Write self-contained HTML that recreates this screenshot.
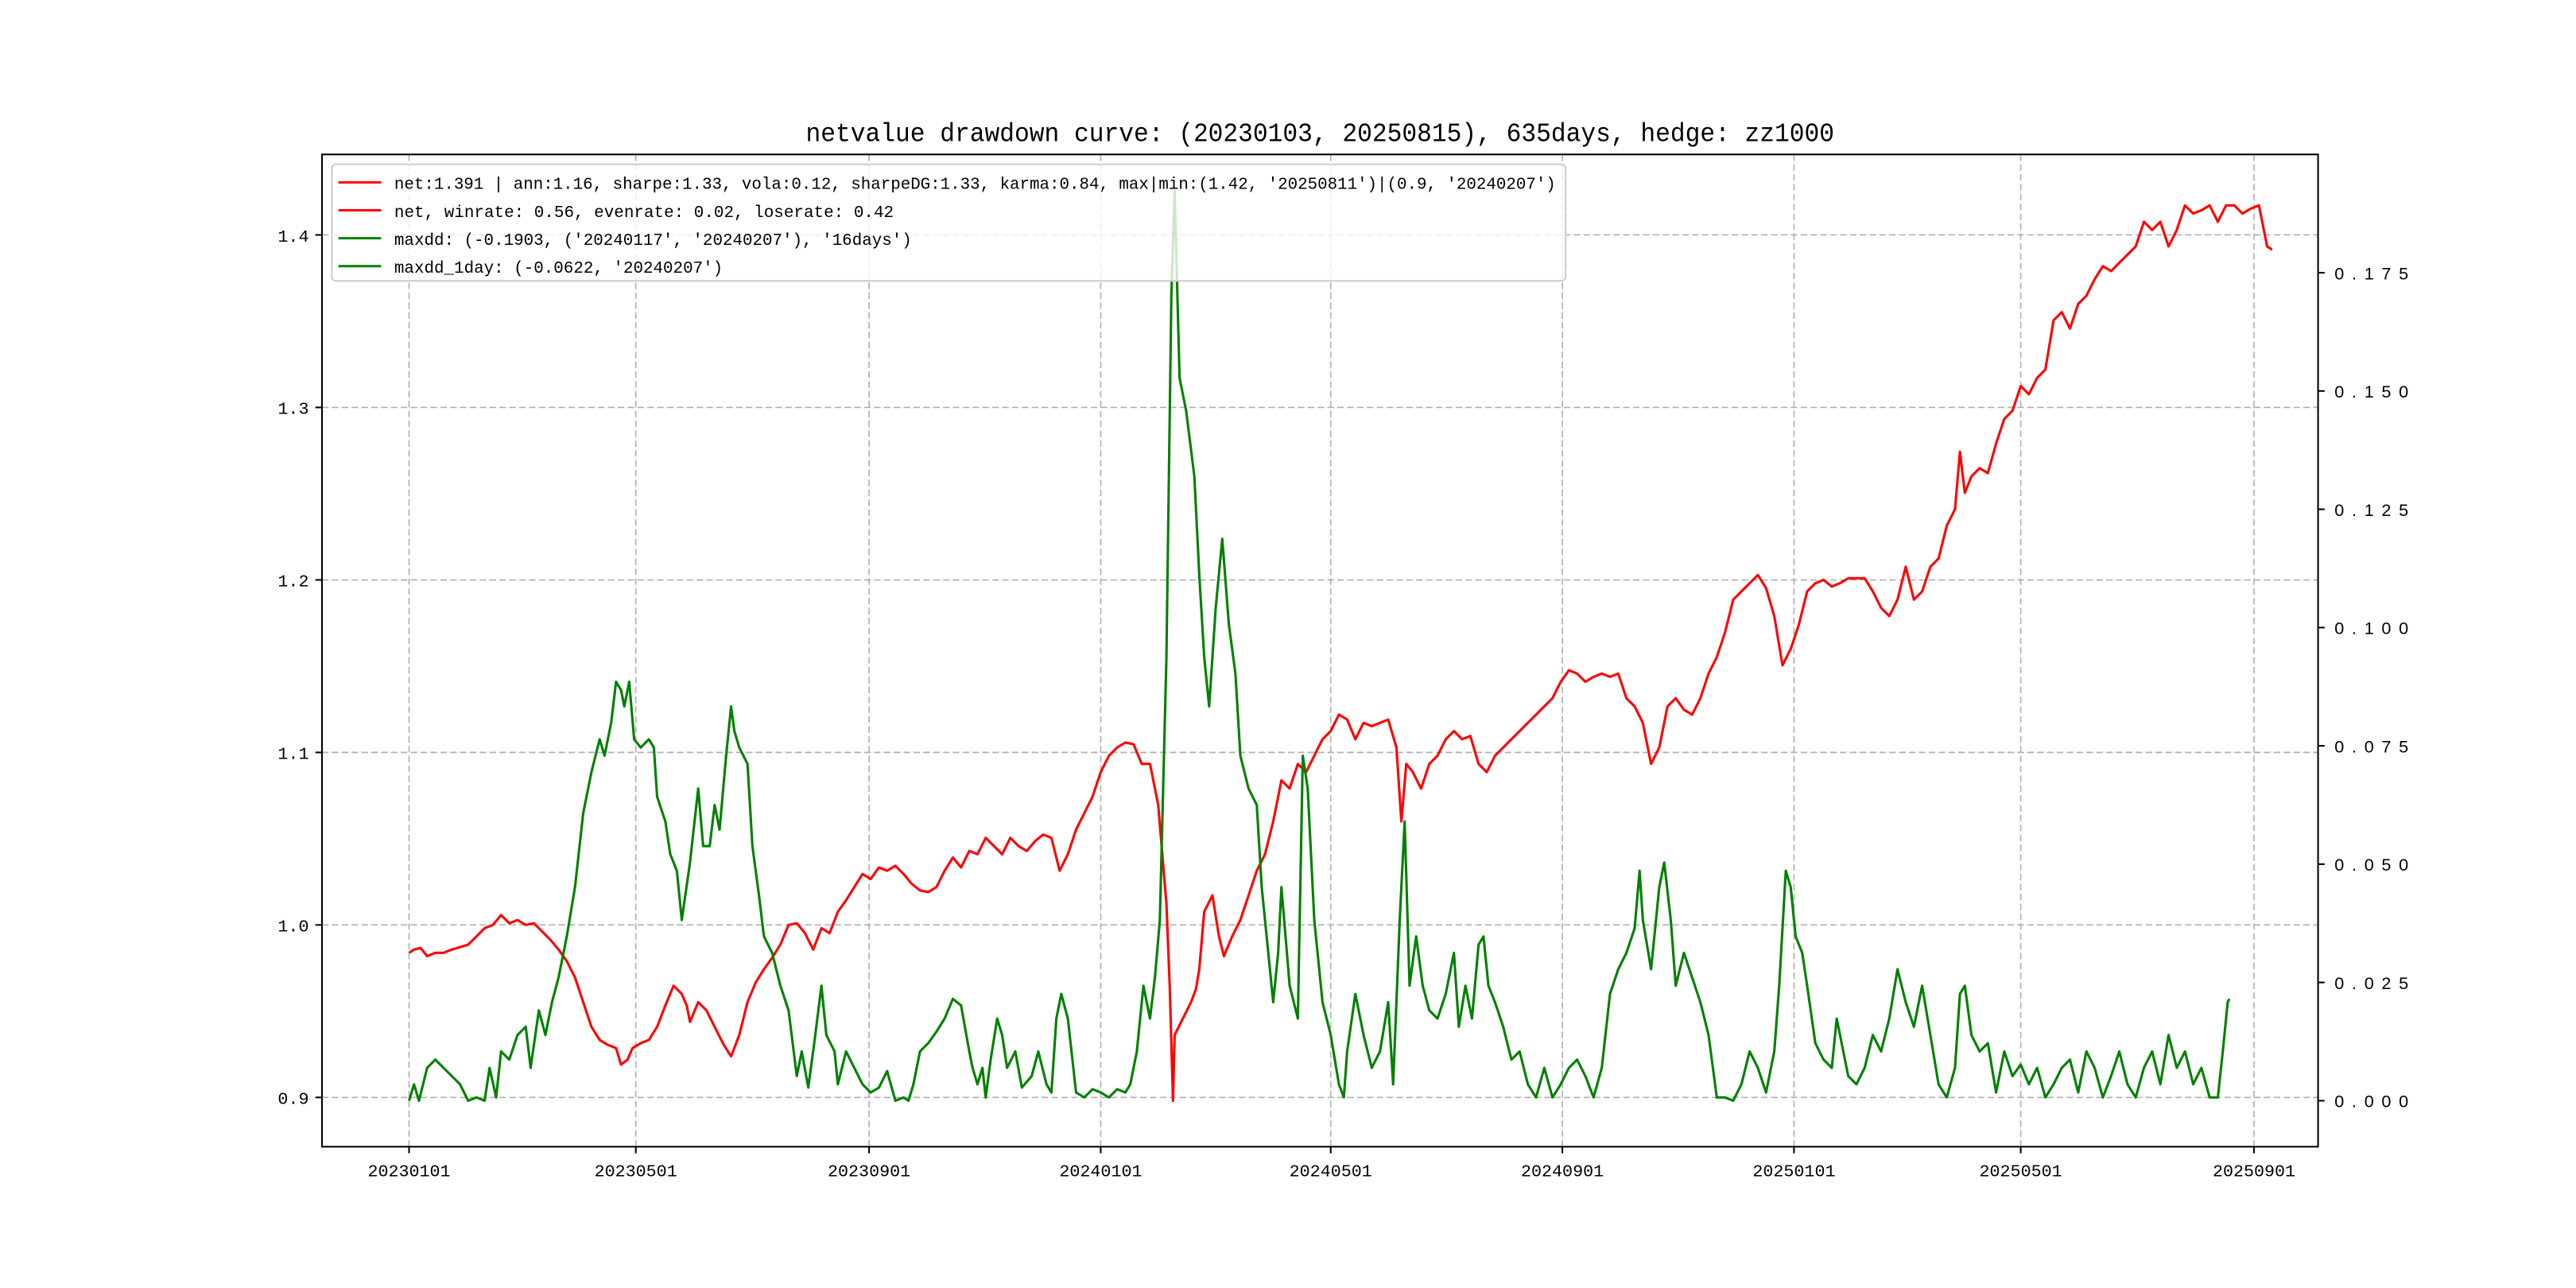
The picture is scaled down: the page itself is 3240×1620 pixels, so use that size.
<!DOCTYPE html>
<html><head><meta charset="utf-8"><style>html,body{margin:0;padding:0;background:#fff}svg{display:block}</style></head>
<body>
<svg width="3240" height="1620" viewBox="0 0 1568 784" preserveAspectRatio="none" xmlns="http://www.w3.org/2000/svg" font-family="'Liberation Mono','Noto Sans CJK SC',monospace">
<rect width="1568" height="784" fill="#fff"/>
<g stroke="#b0b0b0" stroke-width="0.8" stroke-dasharray="4,2" fill="none">
<line x1="249" y1="94" x2="249" y2="698"/><line x1="387" y1="94" x2="387" y2="698"/><line x1="529" y1="94" x2="529" y2="698"/><line x1="670" y1="94" x2="670" y2="698"/><line x1="810" y1="94" x2="810" y2="698"/><line x1="951" y1="94" x2="951" y2="698"/><line x1="1092" y1="94" x2="1092" y2="698"/><line x1="1230" y1="94" x2="1230" y2="698"/><line x1="1372" y1="94" x2="1372" y2="698"/>
<line x1="196" y1="668" x2="1411" y2="668"/><line x1="196" y1="563" x2="1411" y2="563"/><line x1="196" y1="458" x2="1411" y2="458"/><line x1="196" y1="353" x2="1411" y2="353"/><line x1="196" y1="248" x2="1411" y2="248"/><line x1="196" y1="143" x2="1411" y2="143"/>
</g>
<polyline fill="none" stroke="#ff0000" stroke-width="1.5" stroke-linejoin="round" points="249,580 252,578 256,577 260,582 265,580 270,580 275,578 285,575 290,570 295,565 300,563 305,557 310,562 315,560 320,563 325,562 330,567 335,572 340,578 345,585 350,595 355,610 360,625 365,633 370,636 375,638 378,648 382,645 385,638 390,635 395,633 400,625 405,612 410,600 415,605 418,612 420,622 425,610 430,615 435,625 440,635 445,643 450,630 455,610 460,598 465,590 470,583 475,575 480,563 485,562 490,568 495,578 500,565 505,568 510,555 515,548 520,540 525,532 530,535 535,528 540,530 545,527 550,532 555,538 560,542 565,543 570,540 575,530 580,522 585,528 590,518 595,520 600,510 605,515 610,520 615,510 620,515 625,518 630,512 635,508 640,510 645,530 650,520 655,505 660,495 665,485 670,470 675,460 680,455 685,452 690,453 695,465 700,465 705,490 710,550 712,600 714,670 715,630 720,620 725,610 728,602 730,590 733,555 738,545 742,570 745,582 750,570 755,560 760,545 765,530 770,520 775,500 780,475 785,480 790,465 795,470 800,460 805,450 810,445 815,435 820,438 825,450 830,440 835,442 840,440 845,438 850,455 853,500 856,465 860,470 865,480 870,465 875,460 880,450 885,445 890,450 895,448 900,465 905,470 910,460 915,455 920,450 925,445 930,440 935,435 940,430 945,425 950,415 955,408 960,410 965,415 970,412 975,410 980,412 985,410 990,425 995,430 1000,440 1005,465 1010,455 1015,430 1020,425 1025,432 1030,435 1035,425 1040,410 1045,400 1050,385 1055,365 1060,360 1065,355 1070,350 1075,358 1080,375 1085,405 1090,395 1095,380 1100,360 1105,355 1110,353 1115,357 1120,355 1125,352 1130,352 1135,352 1140,360 1145,370 1150,375 1155,365 1160,345 1165,365 1170,360 1175,345 1180,340 1185,320 1190,310 1193,275 1196,300 1200,290 1205,285 1210,288 1215,270 1220,255 1225,250 1230,235 1235,240 1240,230 1245,225 1250,195 1255,190 1260,200 1265,185 1270,180 1275,170 1280,162 1285,165 1290,160 1295,155 1300,150 1305,135 1310,140 1315,135 1320,150 1325,140 1330,125 1335,130 1340,128 1345,125 1350,135 1355,125 1360,125 1365,130 1370,127 1375,125 1380,150 1383,152"/>
<polyline fill="none" stroke="#008000" stroke-width="1.5" stroke-linejoin="round" points="249,670 252,660 255,670 260,650 265,645 270,650 275,655 280,660 285,670 290,668 295,670 298,650 302,668 305,640 310,645 315,630 320,625 323,650 328,615 332,630 336,610 340,595 345,570 350,540 355,495 360,470 365,450 368,460 372,440 375,415 378,420 380,430 383,415 386,450 390,455 395,450 398,455 400,485 405,500 408,520 412,530 415,560 420,525 425,480 428,515 432,515 435,490 438,505 442,460 445,430 447,445 450,455 455,465 458,515 462,545 465,570 470,580 475,600 480,615 485,655 488,640 492,662 496,632 500,600 503,630 508,640 510,660 515,640 520,650 525,660 530,665 535,662 540,652 545,670 550,668 553,670 556,660 560,640 565,635 570,628 575,620 580,608 585,612 590,640 592,650 595,660 598,650 600,668 603,645 607,620 610,630 613,650 618,640 622,662 628,655 632,640 637,660 640,665 643,620 646,605 650,620 655,665 660,668 665,663 670,665 675,668 680,663 685,665 688,660 692,640 696,600 700,620 703,595 706,560 710,400 713,180 715,116 718,230 722,250 727,290 730,350 733,400 736,430 740,370 744,328 748,380 752,410 755,460 760,480 765,490 768,540 772,580 775,610 778,580 780,540 785,600 790,620 793,460 796,480 800,560 805,610 810,630 815,660 818,668 820,640 825,605 830,630 835,650 840,640 845,610 848,660 852,560 855,500 858,600 862,570 866,600 870,615 875,620 880,605 885,580 888,625 892,600 896,620 900,575 903,570 906,600 910,610 915,625 920,645 925,640 930,660 935,668 940,650 945,668 950,660 955,650 960,645 965,655 970,668 975,650 980,605 985,590 990,580 995,565 998,530 1000,560 1005,590 1010,540 1013,525 1017,560 1020,600 1025,580 1030,595 1035,610 1040,630 1045,668 1050,668 1055,670 1060,660 1065,640 1070,650 1075,665 1080,640 1083,600 1087,530 1090,540 1093,570 1097,580 1100,600 1105,635 1110,645 1115,650 1118,620 1122,640 1125,655 1130,660 1135,650 1140,630 1145,640 1150,620 1155,590 1160,610 1165,625 1170,600 1175,630 1180,660 1185,668 1190,650 1193,605 1196,600 1200,630 1205,640 1210,635 1215,665 1220,640 1225,655 1230,648 1235,660 1240,650 1245,668 1250,660 1255,650 1260,645 1265,665 1270,640 1275,650 1280,668 1285,655 1290,640 1295,660 1300,668 1305,650 1310,640 1315,660 1320,630 1325,650 1330,640 1335,660 1340,650 1345,668 1350,668 1353,640 1356,610 1357,608"/>
<rect x="196" y="94" width="1215" height="604" fill="none" stroke="#000" stroke-width="1"/>
<g stroke="#000" stroke-width="1">
<line x1="249" y1="698" x2="249" y2="702"/><line x1="387" y1="698" x2="387" y2="702"/><line x1="529" y1="698" x2="529" y2="702"/><line x1="670" y1="698" x2="670" y2="702"/><line x1="810" y1="698" x2="810" y2="702"/><line x1="951" y1="698" x2="951" y2="702"/><line x1="1092" y1="698" x2="1092" y2="702"/><line x1="1230" y1="698" x2="1230" y2="702"/><line x1="1372" y1="698" x2="1372" y2="702"/>
<line x1="192" y1="668" x2="196" y2="668"/><line x1="192" y1="563" x2="196" y2="563"/><line x1="192" y1="458" x2="196" y2="458"/><line x1="192" y1="353" x2="196" y2="353"/><line x1="192" y1="248" x2="196" y2="248"/><line x1="192" y1="143" x2="196" y2="143"/>
<line x1="1411" y1="670" x2="1415" y2="670"/><line x1="1411" y1="598" x2="1415" y2="598"/><line x1="1411" y1="526" x2="1415" y2="526"/><line x1="1411" y1="454" x2="1415" y2="454"/><line x1="1411" y1="382" x2="1415" y2="382"/><line x1="1411" y1="310" x2="1415" y2="310"/><line x1="1411" y1="238" x2="1415" y2="238"/><line x1="1411" y1="166" x2="1415" y2="166"/>
</g>
<g font-size="10.5" fill="#000" text-anchor="middle">
<text x="249" y="716">20230101</text><text x="387" y="716">20230501</text><text x="529" y="716">20230901</text><text x="670" y="716">20240101</text><text x="810" y="716">20240501</text><text x="951" y="716">20240901</text><text x="1092" y="716">20250101</text><text x="1230" y="716">20250501</text><text x="1372" y="716">20250901</text>
</g>
<g font-size="10.5" fill="#000" text-anchor="end">
<text x="188" y="672">0.9</text><text x="188" y="567">1.0</text><text x="188" y="462">1.1</text><text x="188" y="357">1.2</text><text x="188" y="252">1.3</text><text x="188" y="147">1.4</text>
</g>
<g font-size="10.5" fill="#000" font-family="'Liberation Sans',sans-serif">
<text x="1421" y="674" textLength="45">0.000</text><text x="1421" y="602" textLength="45">0.025</text><text x="1421" y="530" textLength="45">0.050</text><text x="1421" y="458" textLength="45">0.075</text><text x="1421" y="386" textLength="45">0.100</text><text x="1421" y="314" textLength="45">0.125</text><text x="1421" y="242" textLength="45">0.150</text><text x="1421" y="170" textLength="45">0.175</text>
</g>
<text x="803.5" y="86" font-size="16" text-anchor="middle" textLength="626" lengthAdjust="spacingAndGlyphs">netvalue drawdown curve: (20230103, 20250815), 635days, hedge: zz1000</text>
<rect x="202" y="100" width="751" height="71" rx="2.5" fill="#fff" fill-opacity="0.8" stroke="#cccccc" stroke-width="1"/>
<g stroke-width="1.5"><line x1="206" y1="111" x2="232" y2="111" stroke="#f00"/><line x1="206" y1="128" x2="232" y2="128" stroke="#f00"/><line x1="206" y1="145" x2="232" y2="145" stroke="#008000"/><line x1="206" y1="162" x2="232" y2="162" stroke="#008000"/></g>
<g font-size="10.5" fill="#000">
<text x="240" y="115" textLength="707" lengthAdjust="spacingAndGlyphs">net:1.391 | ann:1.16, sharpe:1.33, vola:0.12, sharpeDG:1.33, karma:0.84, max|min:(1.42, '20250811')|(0.9, '20240207')</text>
<text x="240" y="132" textLength="304" lengthAdjust="spacingAndGlyphs">net, winrate: 0.56, evenrate: 0.02, loserate: 0.42</text>
<text x="240" y="149" textLength="315" lengthAdjust="spacingAndGlyphs">maxdd: (-0.1903, ('20240117', '20240207'), '16days')</text>
<text x="240" y="166" textLength="200" lengthAdjust="spacingAndGlyphs">maxdd_1day: (-0.0622, '20240207')</text>
</g>
</svg>
</body></html>
